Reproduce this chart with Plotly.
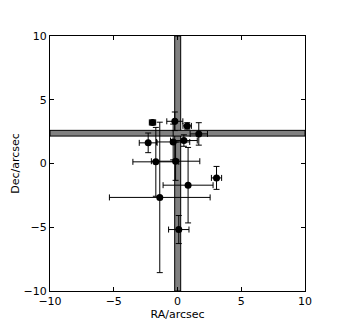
import plotly.graph_objects as go

# offsets (arcsec)
ra = [-1.96, -0.21, 0.76, 1.67, -2.30, -0.34, 0.50, -1.70, -0.15, -1.39, 0.83, 3.06, 0.10]
dec = [3.22, 3.31, 2.95, 2.32, 1.62, 1.69, 1.80, 0.13, 0.18, -2.66, -1.70, -1.13, -5.18]
ra_err = [0.25, 0.63, 0.33, 0.68, 0.70, 1.30, 1.05, 1.80, 1.90, 3.95, 1.96, 0.40, 0.80]
dec_err = [0.20, 0.73, 0.25, 0.88, 0.77, 1.40, 0.45, 2.70, 1.50, 5.90, 2.96, 0.90, 1.10]

# reference position bands
ra_band = [-0.22, 0.25]
dec_band = [2.15, 2.60]
axis_range = [-10, 10]
tick_vals = [-10, -5, 0, 5, 10]

fig = go.Figure()

fig.add_trace(
    go.Scatter(
        x=ra, y=dec, mode="markers",
        marker=dict(color="black", size=7),
        error_x=dict(type="data", array=ra_err, color="black", thickness=1, width=3),
        error_y=dict(type="data", array=dec_err, color="black", thickness=1, width=3),
        showlegend=False,
        hoverinfo="skip",
    )
)

band_style = dict(fillcolor="#808080", line=dict(color="black", width=1), layer="below")
fig.add_shape(type="rect", xref="x", yref="y",
              x0=ra_band[0], x1=ra_band[1], y0=axis_range[0], y1=axis_range[1], **band_style)
fig.add_shape(type="rect", xref="x", yref="y",
              x0=axis_range[0], x1=axis_range[1], y0=dec_band[0], y1=dec_band[1], **band_style)

axis_style = dict(
    range=axis_range,
    tickvals=tick_vals,
    showgrid=False,
    zeroline=False,
    showline=True,
    linecolor="black",
    linewidth=1,
    mirror="ticks",
    ticks="inside",
    ticklen=4,
    tickcolor="black",
    automargin=False,
    tickfont=dict(size=11, color="black"),
    title_font=dict(size=11, color="black"),
)

# the html page adds an 8px body margin, so margins are shifted to compensate
fig.update_layout(
    width=338, height=328,
    margin=dict(l=42, r=41, t=28, b=45),
    plot_bgcolor="white",
    paper_bgcolor="white",
    font=dict(family="DejaVu Sans"),
    xaxis=dict(title=dict(text="RA/arcsec", standoff=0), **axis_style),
    yaxis=dict(title=dict(text="Dec/arcsec", standoff=1), **axis_style),
)

fig.write_html("out.html")
